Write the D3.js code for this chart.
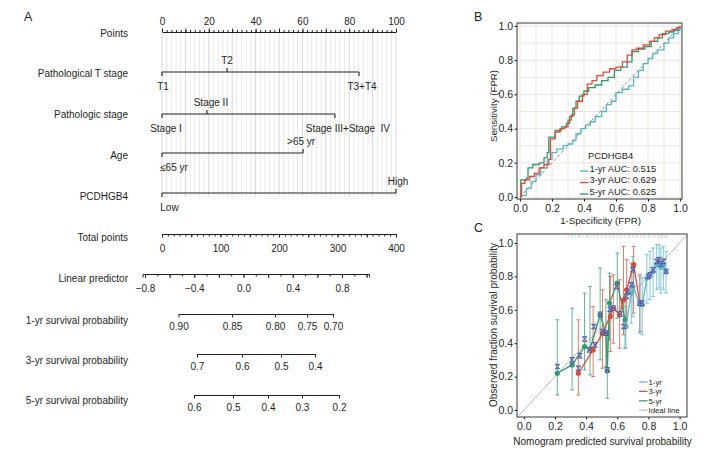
<!DOCTYPE html>
<html lang="en">
<head>
<meta charset="utf-8">
<title>Nomogram, ROC and calibration</title>
<script src="https://d3js.org/d3.v7.min.js"></script>
<style>
  body { margin: 0; background: #fff; }
  svg { font-family: "Liberation Sans", Arial, sans-serif; }
  text { fill: #231f20; }
</style>
</head>
<body>
<div id="chart"></div>
<script>
// ---------- nomogram data ----------
const rowNames = ["Points", "Pathological T stage", "Pathologic stage", "Age", "PCDHGB4",
  "Total points", "Linear predictor", "1-yr survival probability",
  "3-yr survival probability", "5-yr survival probability"];
const pointsLabels = [0, 20, 40, 60, 80, 100];
const tStageLevels = ["T1", "T2", "T3+T4"];
const tStagePoints = [0, 27.8, 84.2];
const stageLevels = ["Stage I", "Stage II", "Stage III+Stage  IV"];
const stagePoints = [0, 19.2, 73.9];
const ageLevels = ["≤65 yr", ">65 yr"];
const agePoints = [0, 60.3];
const geneLevels = ["Low", "High"];
const genePoints = [0, 100];
const totalLabels = [0, 100, 200, 300, 400];
const lpLabels = [-0.8, -0.4, 0.0, 0.4, 0.8];
const surv1Labels = ["0.90", "0.85", "0.80", "0.75", "0.70"];
const surv1LP = [-0.528, -0.093, 0.256, 0.516, 0.727];
const surv3Labels = ["0.7", "0.6", "0.5", "0.4"];
const surv3LP = [-0.378, -0.012, 0.305, 0.581];
const surv5Labels = ["0.6", "0.5", "0.4", "0.3", "0.2"];
const surv5LP = [-0.402, -0.085, 0.199, 0.475, 0.776];

// ---------- ROC data ----------
const rocNames = ["1-yr AUC: 0.515", "3-yr AUC: 0.629", "5-yr AUC: 0.625"];
const roc1Fpr = [0, 0.01, 0.04, 0.07, 0.10, 0.13, 0.17, 0.20, 0.23, 0.27, 0.30, 0.33, 0.35, 0.38, 0.41, 0.44, 0.47, 0.51, 0.54, 0.57, 0.60, 0.64, 0.68, 0.71, 0.74, 0.77, 0.80, 0.83, 0.86, 0.90, 0.93, 0.96, 0.99, 1.0];
const roc1Tpr = [0, 0.01, 0.05, 0.09, 0.13, 0.17, 0.22, 0.26, 0.28, 0.30, 0.31, 0.33, 0.37, 0.40, 0.42, 0.44, 0.47, 0.50, 0.54, 0.56, 0.61, 0.63, 0.65, 0.70, 0.74, 0.78, 0.81, 0.84, 0.86, 0.90, 0.93, 0.955, 0.975, 1.0];
const roc3Fpr = [0, 0.005, 0.01, 0.03, 0.06, 0.09, 0.12, 0.15, 0.18, 0.19, 0.22, 0.25, 0.28, 0.30, 0.32, 0.34, 0.36, 0.39, 0.42, 0.45, 0.48, 0.52, 0.56, 0.60, 0.64, 0.67, 0.70, 0.73, 0.77, 0.81, 0.84, 0.87, 0.91, 0.95, 0.98, 1.0];
const roc3Tpr = [0, 0.02, 0.08, 0.10, 0.12, 0.14, 0.17, 0.19, 0.22, 0.34, 0.38, 0.40, 0.41, 0.45, 0.48, 0.52, 0.56, 0.60, 0.66, 0.68, 0.71, 0.73, 0.75, 0.76, 0.79, 0.83, 0.86, 0.87, 0.89, 0.91, 0.93, 0.95, 0.97, 0.98, 0.99, 1.0];
const roc5Fpr = [0, 0.005, 0.04, 0.05, 0.08, 0.12, 0.15, 0.17, 0.18, 0.22, 0.26, 0.29, 0.31, 0.33, 0.35, 0.37, 0.40, 0.43, 0.47, 0.51, 0.55, 0.59, 0.63, 0.67, 0.70, 0.74, 0.78, 0.82, 0.86, 0.89, 0.93, 0.96, 0.99, 1.0];
const roc5Tpr = [0, 0.10, 0.11, 0.17, 0.19, 0.20, 0.23, 0.26, 0.35, 0.39, 0.41, 0.43, 0.47, 0.52, 0.56, 0.59, 0.62, 0.64, 0.655, 0.68, 0.70, 0.74, 0.76, 0.79, 0.85, 0.865, 0.88, 0.91, 0.93, 0.955, 0.965, 0.975, 0.99, 1.0];

// ---------- calibration data ----------
const calNames = ["1-yr", "3-yr", "5-yr", "Ideal line"];
const cal1X = [0.655, 0.69, 0.70, 0.745, 0.76, 0.79, 0.81, 0.83, 0.853, 0.868, 0.88, 0.896, 0.913];
const cal1Y = [0.50, 0.70, 0.74, 0.635, 0.63, 0.79, 0.81, 0.83, 0.87, 0.88, 0.855, 0.87, 0.83];
const cal1Lo = [0.37, 0.52, 0.56, 0.46, 0.45, 0.64, 0.66, 0.68, 0.72, 0.73, 0.70, 0.72, 0.70];
const cal1Hi = [0.62, 0.88, 0.92, 0.80, 0.79, 0.93, 0.95, 0.97, 0.99, 0.99, 0.97, 0.98, 0.95];
const cal3X = [0.35, 0.445, 0.505, 0.555, 0.575, 0.615, 0.64, 0.66, 0.705, 0.745];
const cal3Y = [0.22, 0.36, 0.46, 0.56, 0.61, 0.57, 0.66, 0.72, 0.87, 0.64];
const cal3Lo = [0.09, 0.20, 0.25, 0.35, 0.40, 0.37, 0.45, 0.50, 0.58, 0.47];
const cal3Hi = [0.54, 0.62, 0.72, 0.80, 0.81, 0.78, 0.98, 0.90, 0.98, 0.81];
const cal5X = [0.215, 0.31, 0.39, 0.425, 0.49, 0.527, 0.536, 0.55, 0.60, 0.65];
const cal5Y = [0.22, 0.27, 0.38, 0.365, 0.57, 0.46, 0.235, 0.64, 0.76, 0.54];
const cal5Lo = [0.09, 0.12, 0.24, 0.21, 0.30, 0.26, 0.07, 0.42, 0.55, 0.37];
const cal5Hi = [0.54, 0.61, 0.70, 0.74, 0.85, 0.66, 0.46, 0.82, 0.94, 0.68];
// bias-corrected estimates (x marks)
const corrX = [0.215, 0.31, 0.35, 0.36, 0.39, 0.42, 0.45, 0.457, 0.49, 0.506, 0.527, 0.536, 0.553, 0.575, 0.597, 0.62, 0.642, 0.66, 0.67, 0.69, 0.70, 0.745, 0.76, 0.80, 0.81, 0.83, 0.853, 0.868, 0.88, 0.896, 0.913];
const corrY = [0.26, 0.30, 0.25, 0.325, 0.425, 0.36, 0.50, 0.39, 0.573, 0.47, 0.46, 0.24, 0.603, 0.61, 0.74, 0.575, 0.50, 0.68, 0.71, 0.75, 0.84, 0.64, 0.64, 0.80, 0.81, 0.84, 0.89, 0.90, 0.874, 0.89, 0.83];
// distribution of predicted values (top rug)
const rugX = [0.27, 0.29, 0.31, 0.33, 0.35, 0.36, 0.38, 0.40, 0.41, 0.43, 0.45, 0.47, 0.48, 0.50, 0.52, 0.53, 0.55, 0.57, 0.58, 0.60, 0.62, 0.63, 0.65, 0.67, 0.68, 0.70, 0.72, 0.73, 0.75, 0.77, 0.78, 0.80, 0.81, 0.83, 0.84, 0.86, 0.87, 0.88, 0.89, 0.90, 0.91, 0.92];

const colBlue = "#58b5c6", colRed = "#e14b36", colGreen = "#2c9a72", colMark = "#434aa2";

const svg = d3.select("#chart").append("svg")
  .attr("width", 724).attr("height", 457);

// panel letters
svg.append("text").attr("x", 24).attr("y", 21).attr("font-size", 12.5).text("A");
svg.append("text").attr("x", 474).attr("y", 21).attr("font-size", 12.5).text("B");
svg.append("text").attr("x", 474).attr("y", 232).attr("font-size", 12.5).text("C");

// ================= nomogram =================
const nomo = svg.append("g").attr("font-size", 10);
const xPts = d3.scaleLinear().domain([0, 100]).range([162, 396]);
const xTot = d3.scaleLinear().domain([0, 400]).range([162, 396]);
const xLP = d3.scaleLinear().domain([-0.8, 0.8]).range([145, 342]);

const rowY = [32, 72, 114, 153, 193, 234, 274, 314, 354, 395];
const rowLabelDy = [4.5, 4.5, 3.5, 5.5, 6.5, 6.5, 7.5, 9.5, 9.5, 8.5];

// reference grid lines
nomo.append("g").selectAll("line")
  .data(d3.range(0, 101, 2))
  .join("line")
  .attr("x1", d => xPts(d)).attr("x2", d => xPts(d))
  .attr("y1", rowY[0]).attr("y2", rowY[4] + 4)
  .attr("stroke", d => d % 10 === 0 ? "#cbcbcb" : "#e3e3e3")
  .attr("stroke-width", 0.8);

nomo.append("g").selectAll("text")
  .data(rowNames)
  .join("text")
  .attr("x", 128)
  .attr("y", (d, i) => rowY[i] + rowLabelDy[i])
  .attr("text-anchor", "end")
  .text(d => d);

function styleAxis(g, size) {
  g.attr("font-family", null).attr("font-size", size);
  g.selectAll("path, line").attr("stroke", "#231f20").attr("stroke-width", 1);
  g.selectAll("text").attr("fill", "#231f20");
}

// Points axis
nomo.append("g").attr("transform", `translate(0,${rowY[0]})`)
  .call(d3.axisTop(xPts).tickValues(d3.range(0, 101, 2)).tickSize(2).tickSizeOuter(0).tickFormat(""))
  .call(g => styleAxis(g, 10));
nomo.append("g").attr("transform", `translate(0,${rowY[0]})`)
  .call(d3.axisTop(xPts).tickValues(d3.range(0, 101, 10)).tickSize(3.5).tickPadding(3.5)
    .tickFormat(d => pointsLabels.includes(d) ? d : ""))
  .call(g => g.select(".domain").remove())
  .call(g => styleAxis(g, 10));

// categorical rows
const factorRows = [
  { y: rowY[1], levels: tStageLevels, pts: tStagePoints, side: [1, -1, 1], dx: [1, 0, 3] },
  { y: rowY[2], levels: stageLevels, pts: stagePoints, side: [1, -1, 1], dx: [4, 4, 13] },
  { y: rowY[3], levels: ageLevels, pts: agePoints, side: [1, -1], dx: [12, -2] },
  { y: rowY[4], levels: geneLevels, pts: genePoints, side: [1, -1], dx: [7.5, 2] }
];
factorRows.forEach(r => {
  const g = nomo.append("g");
  g.append("line")
    .attr("x1", xPts(d3.min(r.pts))).attr("x2", xPts(d3.max(r.pts)))
    .attr("y1", r.y).attr("y2", r.y)
    .attr("stroke", "#231f20").attr("stroke-width", 1.1);
  g.selectAll("line.tk").data(r.pts).join("line").attr("class", "tk")
    .attr("x1", d => xPts(d)).attr("x2", d => xPts(d))
    .attr("y1", r.y).attr("y2", (d, i) => r.y + 4 * r.side[i])
    .attr("stroke", "#231f20").attr("stroke-width", 1.1);
  g.selectAll("text").data(r.levels).join("text")
    .attr("x", (d, i) => xPts(r.pts[i]) + r.dx[i])
    .attr("y", (d, i) => r.side[i] > 0 ? r.y + 18 : r.y - 8)
    .attr("text-anchor", "middle")
    .style("white-space", "pre")
    .text(d => d);
});

// Total points
nomo.append("g").attr("transform", `translate(0,${rowY[5]})`)
  .call(d3.axisBottom(xTot).tickValues(d3.range(0, 401, 10)).tickSize(2.5).tickSizeOuter(0).tickFormat(""))
  .call(g => styleAxis(g, 10));
nomo.append("g").attr("transform", `translate(0,${rowY[5]})`)
  .call(d3.axisBottom(xTot).tickValues(d3.range(0, 401, 50)).tickSize(3.5).tickPadding(7.5)
    .tickFormat(d => totalLabels.includes(d) ? d : ""))
  .call(g => g.select(".domain").remove())
  .call(g => styleAxis(g, 10));

// Linear predictor
const xLPline = xLP.copy().domain([-0.82, 1.02]).range([xLP(-0.82), xLP(1.02)]);
nomo.append("g").attr("transform", `translate(0,${rowY[6]})`)
  .call(d3.axisBottom(xLPline).tickValues(d3.range(-8, 11, 1).map(d => d / 10)).tickSize(2.5).tickSizeOuter(3.5).tickFormat(""))
  .call(g => styleAxis(g, 10));
nomo.append("g").attr("transform", `translate(0,${rowY[6]})`)
  .call(d3.axisBottom(xLP).tickValues(d3.range(-8, 11, 2).map(d => d / 10)).tickSize(4).tickPadding(6.5)
    .tickFormat(d => lpLabels.some(v => Math.abs(v - d) < 1e-9) ? d3.format(".1f")(d) : ""))
  .call(g => g.select(".domain").remove())
  .call(g => styleAxis(g, 10));

// survival probability axes
[[surv1LP, surv1Labels, rowY[7]], [surv3LP, surv3Labels, rowY[8]], [surv5LP, surv5Labels, rowY[9]]]
  .forEach(([lp, labels, y]) => {
    const lo = d3.min(lp), hi = d3.max(lp);
    const sc = xLP.copy().domain([lo, hi]).range([xLP(lo), xLP(hi)]);
    nomo.append("g").attr("transform", `translate(0,${y})`)
      .call(d3.axisBottom(sc).tickValues(lp).tickSize(3.5).tickSizeOuter(0).tickPadding(5.5)
        .tickFormat((d, i) => labels[i]))
      .call(g => styleAxis(g, 10));
  });

// ================= ROC =================
const roc = svg.append("g");
const xR = d3.scaleLinear().domain([0, 1]).range([520, 680]);
const yR = d3.scaleLinear().domain([0, 1]).range([197, 26]);
const rocBox = { x0: 517, x1: 682, y0: 23, y1: 199 };

roc.append("g").selectAll("line.gv").data(d3.range(0, 11)).join("line")
  .attr("x1", d => xR(d / 10)).attr("x2", d => xR(d / 10))
  .attr("y1", rocBox.y0).attr("y2", rocBox.y1)
  .attr("stroke", "#ebe5de").attr("stroke-width", 1);
roc.append("g").selectAll("line.gh").data(d3.range(0, 11)).join("line")
  .attr("y1", d => yR(d / 10)).attr("y2", d => yR(d / 10))
  .attr("x1", rocBox.x0).attr("x2", rocBox.x1)
  .attr("stroke", "#ebe5de").attr("stroke-width", 1);

roc.append("line")
  .attr("x1", xR(0)).attr("y1", yR(0)).attr("x2", xR(1)).attr("y2", yR(1))
  .attr("stroke", "#8c8c8c").attr("stroke-width", 1).attr("stroke-dasharray", "3,2.5");

const rocLine = d3.line().x(d => xR(d[0])).y(d => yR(d[1])).curve(d3.curveStepAfter);
const rocSeries = [
  [d3.zip(roc1Fpr, roc1Tpr), colBlue],
  [d3.zip(roc5Fpr, roc5Tpr), colGreen],
  [d3.zip(roc3Fpr, roc3Tpr), colRed]
];
rocSeries.forEach(([pts, c]) => {
  roc.append("path").attr("d", rocLine(pts))
    .attr("fill", "none").attr("stroke", c).attr("stroke-width", 1.3);
});

roc.append("rect")
  .attr("x", rocBox.x0).attr("y", rocBox.y0)
  .attr("width", rocBox.x1 - rocBox.x0).attr("height", rocBox.y1 - rocBox.y0)
  .attr("fill", "none").attr("stroke", "#4a4a4a").attr("stroke-width", 1.1);

roc.append("g").attr("transform", `translate(${rocBox.x0},0)`)
  .call(d3.axisLeft(yR).tickValues(d3.range(0, 6).map(d => d / 5)).tickSize(2.5).tickPadding(1.5).tickFormat(d3.format(".1f")))
  .call(g => g.select(".domain").remove())
  .call(g => styleAxis(g, 10.5));
roc.append("g").attr("transform", `translate(0,${rocBox.y1})`)
  .call(d3.axisBottom(xR).tickValues(d3.range(0, 6).map(d => d / 5)).tickSize(2.5).tickPadding(3.5).tickFormat(d3.format(".1f")))
  .call(g => g.select(".domain").remove())
  .call(g => styleAxis(g, 10.5));

roc.append("text").attr("x", 600.5).attr("y", 223.5).attr("text-anchor", "middle")
  .attr("font-size", 9.7).text("1-Specificity (FPR)");
roc.append("text").attr("transform", "translate(496.5,106) rotate(-90)").attr("text-anchor", "middle")
  .attr("font-size", 9.7).text("Sensitivity (FPR)");

const rocLeg = roc.append("g").attr("font-size", 9.4);
rocLeg.append("text").attr("x", 588).attr("y", 158.5).text("PCDHGB4");
[colBlue, colRed, colGreen].forEach((c, i) => {
  const y = 168 + i * 11.5;
  rocLeg.append("line").attr("x1", 580).attr("x2", 588.5).attr("y1", y + 3).attr("y2", y + 3)
    .attr("stroke", c).attr("stroke-width", 1.3);
  rocLeg.append("text").attr("x", 589.5).attr("y", y + 3.5).text(rocNames[i]);
});

// ================= calibration =================
const cal = svg.append("g");
const xC = d3.scaleLinear().domain([0, 1]).range([523.8, 679.6]);
const yC = d3.scaleLinear().domain([0, 1]).range([410, 243]);
const calBox = { x0: 517, x1: 687, y0: 234, y1: 417 };

cal.append("clipPath").attr("id", "calClip").append("rect")
  .attr("x", calBox.x0).attr("y", calBox.y0)
  .attr("width", calBox.x1 - calBox.x0).attr("height", calBox.y1 - calBox.y0);

cal.append("line").attr("clip-path", "url(#calClip)")
  .attr("x1", xC(-0.1)).attr("y1", yC(-0.1)).attr("x2", xC(1.1)).attr("y2", yC(1.1))
  .attr("stroke", "#bdbdbd").attr("stroke-width", 1);

// rug of predicted values
cal.append("g").selectAll("line").data(rugX).join("line")
  .attr("x1", d => xC(d)).attr("x2", d => xC(d))
  .attr("y1", calBox.y0 + 1).attr("y2", calBox.y0 + 4.5)
  .attr("stroke", (d, i) => [colBlue, colRed, colGreen][i % 3])
  .attr("stroke-opacity", 0.35).attr("stroke-width", 0.8);

const calSeries = [
  { x: cal5X, y: cal5Y, lo: cal5Lo, hi: cal5Hi, c: colGreen },
  { x: cal3X, y: cal3Y, lo: cal3Lo, hi: cal3Hi, c: colRed },
  { x: cal1X, y: cal1Y, lo: cal1Lo, hi: cal1Hi, c: colBlue }
];
calSeries.forEach(s => {
  const g = cal.append("g");
  const bars = g.selectAll("g.bar").data(s.x).join("g").attr("class", "bar")
    .attr("stroke", s.c).attr("stroke-opacity", 0.75).attr("stroke-width", 1);
  bars.append("line")
    .attr("x1", d => xC(d)).attr("x2", d => xC(d))
    .attr("y1", (d, i) => yC(s.lo[i])).attr("y2", (d, i) => yC(s.hi[i]));
  bars.append("line")
    .attr("x1", d => xC(d) - 2).attr("x2", d => xC(d) + 2)
    .attr("y1", (d, i) => yC(s.lo[i])).attr("y2", (d, i) => yC(s.lo[i]));
  bars.append("line")
    .attr("x1", d => xC(d) - 2).attr("x2", d => xC(d) + 2)
    .attr("y1", (d, i) => yC(s.hi[i])).attr("y2", (d, i) => yC(s.hi[i]));
});
calSeries.forEach(s => {
  const pts = d3.zip(s.x, s.y);
  cal.append("path")
    .attr("d", d3.line().x(d => xC(d[0])).y(d => yC(d[1]))(pts))
    .attr("fill", "none").attr("stroke", s.c).attr("stroke-width", 1.3);
  cal.append("g").selectAll("circle").data(pts).join("circle")
    .attr("cx", d => xC(d[0])).attr("cy", d => yC(d[1])).attr("r", 2.6)
    .attr("fill", s.c);
});

// bias-corrected marks
const hourglass = "M-2.3,-2.3L2.3,-2.3L-2.3,2.3L2.3,2.3Z";
cal.append("g").selectAll("path").data(d3.zip(corrX, corrY)).join("path")
  .attr("transform", d => `translate(${xC(d[0])},${yC(d[1])})`)
  .attr("d", hourglass)
  .attr("fill", "#aeb2e0").attr("stroke", colMark).attr("stroke-width", 0.9);

cal.append("rect")
  .attr("x", calBox.x0).attr("y", calBox.y0)
  .attr("width", calBox.x1 - calBox.x0).attr("height", calBox.y1 - calBox.y0)
  .attr("fill", "none").attr("stroke", "#4a4a4a").attr("stroke-width", 1.1);

cal.append("g").attr("transform", `translate(${calBox.x0},0)`)
  .call(d3.axisLeft(yC).tickValues(d3.range(0, 6).map(d => d / 5)).tickSize(2.5).tickPadding(1.5).tickFormat(d3.format(".1f")))
  .call(g => g.select(".domain").remove())
  .call(g => styleAxis(g, 10.5));
cal.append("g").attr("transform", `translate(0,${calBox.y1})`)
  .call(d3.axisBottom(xC).tickValues(d3.range(0, 6).map(d => d / 5)).tickSize(2.5).tickPadding(3).tickFormat(d3.format(".1f")))
  .call(g => g.select(".domain").remove())
  .call(g => styleAxis(g, 10.5));

cal.append("text").attr("x", 602.5).attr("y", 444.5).attr("text-anchor", "middle")
  .attr("font-size", 10).text("Nomogram predicted survival probability");
cal.append("text").attr("transform", "translate(496.5,325) rotate(-90)").attr("text-anchor", "middle")
  .attr("font-size", 10).text("Observed fraction survival probability");

// legend rows kept tight as in the original, small font so rows do not collide
const calLeg = cal.append("g").attr("font-size", 7.8);
[colBlue, colRed, colGreen, "#bdbdbd"].forEach((c, i) => {
  const y = 382 + i * 9.4;
  calLeg.append("line").attr("x1", 639).attr("x2", 647.5).attr("y1", y).attr("y2", y)
    .attr("stroke", c).attr("stroke-width", 1.2);
  calLeg.append("text").attr("x", 648.5).attr("y", y + 3).text(calNames[i]);
});
</script>
</body>
</html>
